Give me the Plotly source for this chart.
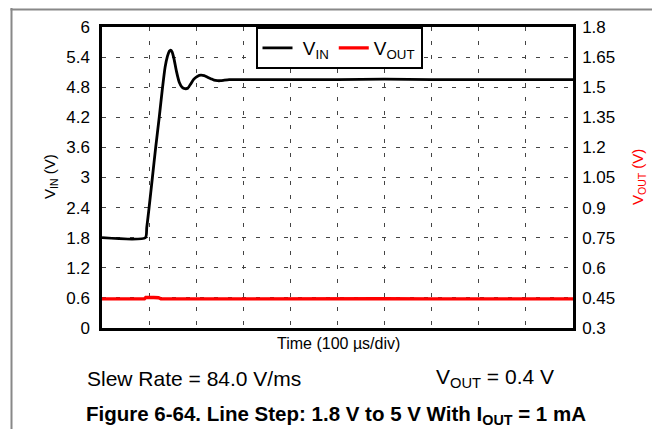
import plotly.graph_objects as go

# Time axis in microseconds (100 us/div, 10 divisions)
t_vin = [0, 92, 95, 100, 107, 114, 121.5, 128.6, 134, 139, 143, 146, 149, 153, 158, 164, 170, 176, 182,
         188, 195, 203, 210, 217, 224, 231, 238, 245, 252, 260, 270, 285, 300, 400, 500, 600, 700, 800, 900, 1000]
v_in = [1.8, 1.8, 2.0, 2.4, 3.0, 3.6, 4.2, 4.8, 5.2, 5.42, 5.52, 5.54, 5.5, 5.36, 5.12, 4.9, 4.8, 4.77, 4.78,
        4.86, 4.96, 5.02, 5.04, 5.03, 5.0, 4.97, 4.94, 4.93, 4.93, 4.94, 4.95, 4.95, 4.95, 4.95, 4.95, 4.96, 4.95, 4.95, 4.95, 4.95]

t_vout = [0, 90, 93, 100, 110, 120, 125, 200, 300, 400, 500, 600, 700, 800, 900, 1000]
v_out = [0.445, 0.445, 0.452, 0.453, 0.452, 0.451, 0.446, 0.445, 0.446, 0.445, 0.445, 0.446, 0.445, 0.445, 0.446, 0.445]

left_ticks = [0, 0.6, 1.2, 1.8, 2.4, 3.0, 3.6, 4.2, 4.8, 5.4, 6.0]
left_labels = ["0", "0.6", "1.2", "1.8", "2.4", "3", "3.6", "4.2", "4.8", "5.4", "6"]
right_ticks = [0.3, 0.45, 0.6, 0.75, 0.9, 1.05, 1.2, 1.35, 1.5, 1.65, 1.8]
right_labels = ["0.3", "0.45", "0.6", "0.75", "0.9", "1.05", "1.2", "1.35", "1.5", "1.65", "1.8"]
x_grid = [0, 100, 200, 300, 400, 500, 600, 700, 800, 900, 1000]

FONT = "Liberation Sans, Arial, sans-serif"
NB = "\u00a0"

fig = go.Figure()
fig.add_trace(go.Scatter(x=t_vin, y=v_in, mode="lines", name=NB + "V<sub>IN</sub>",
                         line=dict(color="black", width=2.8, shape="spline", smoothing=0.6)))
fig.add_trace(go.Scatter(x=t_vout, y=v_out, mode="lines", name="V<sub>OUT</sub>", yaxis="y2",
                         line=dict(color="#ff0000", width=3.4)))

grid = dict(showgrid=True, gridcolor="#444444", gridwidth=1, griddash="4px,10px")

L, R, T, B = 94, 95, 19, 109
W, H = 660, 429
pw, ph = W - L - R, H - T - B

def px(x):
    return (x - L) / pw

def py(y):
    return (H - B - y) / ph

fig.update_layout(
    width=W, height=H,
    margin=dict(l=L, r=R, t=T, b=B, autoexpand=False),
    paper_bgcolor="white", plot_bgcolor="white",
    font=dict(family=FONT, size=16, color="black"),
    showlegend=True,
    legend=dict(orientation="h", x=px(331), xanchor="center", y=1, yanchor="top",
                bgcolor="white", bordercolor="black", borderwidth=2,
                font=dict(size=19), tracegroupgap=0),
    xaxis=dict(range=[0, 1000], tickvals=x_grid, showticklabels=False, ticks="",
               showline=True, linecolor="black", linewidth=2.5, mirror=True, zeroline=False, **grid),
    yaxis=dict(range=[0, 6], tickvals=left_ticks, ticktext=left_labels, ticks="",
               showline=True, linecolor="black", linewidth=2.5, zeroline=False,
               tickfont=dict(size=17), ticklabelstandoff=6, **grid),
    yaxis2=dict(range=[0.3, 1.8], tickvals=right_ticks, ticktext=right_labels, ticks="",
                overlaying="y", side="right", showline=True, linecolor="black", linewidth=2.5,
                zeroline=False, showgrid=False, tickfont=dict(size=17), ticklabelstandoff=3),
)

ann = [
    dict(text="V<sub>IN</sub> (V)", x=px(42), y=py(169), textangle=-90, font=dict(size=15)),
    dict(text="V<sub>OUT</sub> (V)", x=px(630), y=py(169), textangle=-90, font=dict(size=15, color="#ff0000")),
    dict(text="Time (100 µs/div)", x=px(330), y=py(335), font=dict(size=16)),
    dict(text="Slew Rate = 84.0 V/ms", x=px(77), y=py(370), xanchor="left", font=dict(size=21)),
    dict(text="V<sub>OUT</sub> = 0.4 V", x=px(548), y=py(370), xanchor="right", font=dict(size=21)),
    dict(text="<b>Figure 6-64. Line Step: 1.8 V to 5 V With I<sub>OUT</sub> = 1 mA</b>",
         x=px(76), y=py(407), xanchor="left", font=dict(size=20.5)),
]
for a in ann:
    a.update(xref="paper", yref="paper", showarrow=False)
    a.setdefault("xanchor", "center")
    a["yanchor"] = "middle"
fig.update_layout(annotations=ann)

fig.update_layout(shapes=[
    dict(type="line", xref="paper", yref="paper", x0=px(3.5), x1=px(3.5), y0=py(0), y1=py(H),
         line=dict(color="#888888", width=2)),
    dict(type="line", xref="paper", yref="paper", x0=px(2.5), x1=px(W), y0=py(1.5), y1=py(1.5),
         line=dict(color="#888888", width=2)),
])

fig.write_html("out.html")
